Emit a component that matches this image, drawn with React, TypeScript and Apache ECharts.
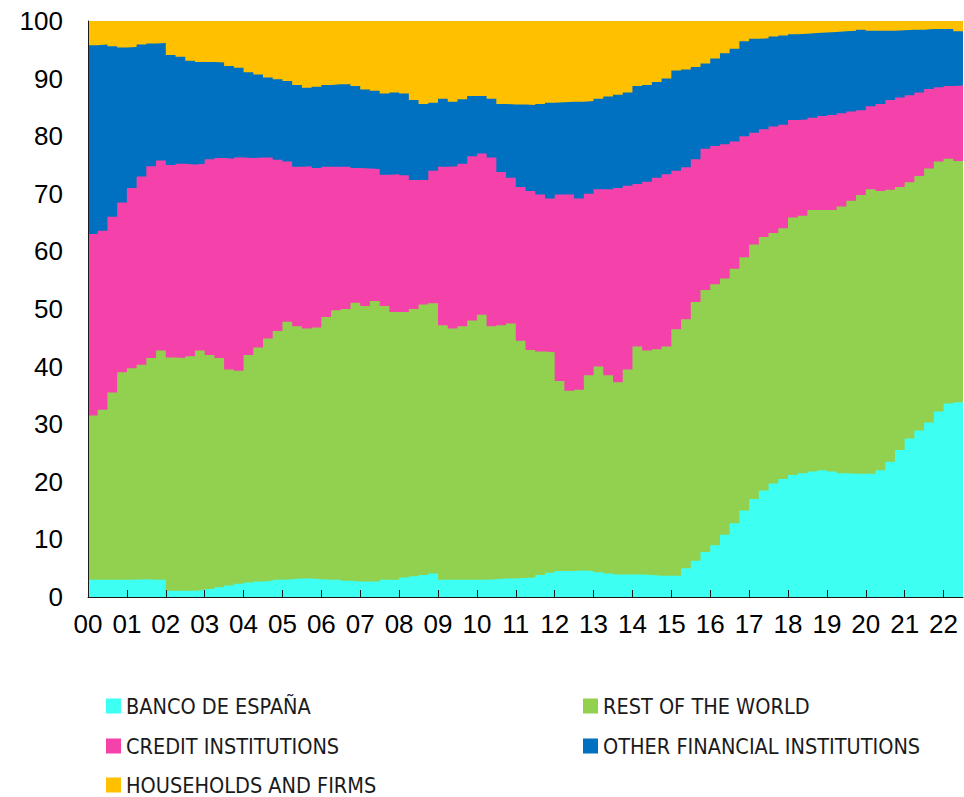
import React, { useEffect, useRef } from "react";
import * as echarts from "echarts";

// Year tick labels (x axis) and y-axis tick values
const yearLabels = ["00","01","02","03","04","05","06","07","08","09","10","11","12","13","14","15","16","17","18","19","20","21","22"];
const yTicks = [0, 10, 20, 30, 40, 50, 60, 70, 80, 90, 100];

// Series names (legend)
const names = [
  "BANCO DE ESPAÑA",
  "REST OF THE WORLD",
  "CREDIT INSTITUTIONS",
  "OTHER FINANCIAL INSTITUTIONS",
  "HOUSEHOLDS AND FIRMS",
];

// Quarterly readings, 2000Q1 .. 2022Q2: upper edge (cumulative %) of each band
const bancoDeEspanaTop = [
  3.0,3.0,3.0,3.0, 3.0,3.1,3.0,3.0, 1.1,1.1,1.1,1.2, 1.4,1.7,2.0,2.3,
  2.5,2.7,2.8,3.0, 3.1,3.2,3.2,3.1, 3.0,3.0,2.8,2.7, 2.7,2.7,3.0,3.0,
  3.4,3.6,3.8,4.1, 3.0,3.0,3.0,3.0, 3.0,3.1,3.2,3.2, 3.3,3.4,3.8,4.2,
  4.5,4.5,4.6,4.5, 4.3,4.1,3.9,3.9, 3.9,3.8,3.7,3.7, 3.7,5.0,6.3,7.8,
  9.0,10.8,12.8,15.0, 17.0,18.5,19.7,20.5, 21.2,21.5,21.8,22.0, 21.8,21.5,21.4,21.4,
  21.4,22.0,23.5,25.5, 27.5,28.9,30.3,32.2, 33.6,33.8,
];
const restOfWorldTop = [
  31.5,32.5,35.5,39.0, 39.7,40.3,41.5,42.8, 41.6,41.5,41.8,42.8, 42.0,41.5,39.5,39.3,
  42.0,43.3,44.9,46.2, 47.8,47.0,46.6,46.8, 48.6,49.8,50.0,51.1, 50.5,51.4,50.5,49.5,
  49.5,50.0,50.8,51.0, 47.2,46.6,47.0,48.0, 49.0,47.0,47.2,47.5, 44.5,42.9,42.6,42.5,
  37.5,35.8,36.0,38.5, 40.0,38.5,37.3,39.5, 43.5,42.8,43.0,43.5, 46.5,48.2,51.2,53.3,
  54.3,55.3,57.0,59.0, 61.2,62.5,63.2,64.0, 65.9,66.2,67.2,67.2, 67.2,67.8,68.8,69.8,
  70.8,70.5,70.7,71.2, 72.0,73.1,74.4,75.6, 76.1,75.7,
];
const creditInstitutionsTop = [
  63.0,63.6,66.0,68.5, 71.0,73.0,74.8,75.8, 75.0,75.2,75.1,75.2, 76.0,76.2,76.1,76.3,
  76.2,76.3,76.3,75.9, 75.6,74.7,74.8,74.5, 74.7,74.7,74.7,74.5, 74.4,74.3,73.3,73.4,
  73.2,72.4,72.4,74.0, 74.7,74.8,75.2,76.5, 77.0,76.3,73.8,72.8, 71.2,70.5,69.9,69.2,
  69.9,69.9,69.2,70.0, 70.8,70.8,71.0,71.4, 71.7,72.1,72.8,73.4, 74.0,74.6,76.0,77.8,
  78.3,78.6,79.1,80.0, 80.6,81.2,81.7,82.0, 82.8,82.9,83.2,83.5, 83.7,84.0,84.3,84.5,
  85.2,85.6,86.3,86.7, 87.1,87.6,88.2,88.5, 88.7,88.8,
];
const otherFinancialTop = [
  95.8,95.9,95.6,95.4, 95.5,95.9,96.1,96.2, 94.1,93.8,93.1,92.9, 92.9,92.8,92.2,91.9,
  91.1,90.7,90.2,89.9, 89.6,88.9,88.4,88.6, 88.9,89.0,89.0,88.7, 88.1,87.9,87.4,87.6,
  87.4,86.3,85.6,85.8, 86.5,86.0,86.4,87.0, 87.0,86.5,85.6,85.5, 85.5,85.4,85.6,85.8,
  85.9,86.0,86.0,86.1, 86.5,86.9,87.2,87.6, 88.7,88.9,89.4,90.0, 91.4,91.6,92.0,92.6,
  93.5,94.4,95.2,96.5, 96.9,97.0,97.3,97.5, 97.7,97.8,97.9,98.0, 98.1,98.2,98.3,98.5,
  98.3,98.3,98.3,98.4, 98.5,98.5,98.6,98.6, 98.6,98.2,
];
const householdsTop = [
  100,100,100,100, 100,100,100,100, 100,100,100,100, 100,100,100,100,
  100,100,100,100, 100,100,100,100, 100,100,100,100, 100,100,100,100,
  100,100,100,100, 100,100,100,100, 100,100,100,100, 100,100,100,100,
  100,100,100,100, 100,100,100,100, 100,100,100,100, 100,100,100,100,
  100,100,100,100, 100,100,100,100, 100,100,100,100, 100,100,100,100,
  100,100,100,100, 100,100,100,100, 100,100,
];

const colors = ["#3DFFF2", "#92D050", "#F542AA", "#0070C0", "#FFC000"];

export default function App() {
  const ref = useRef<HTMLDivElement>(null);
  useEffect(() => {
    if (!ref.current) return;
    const chart = echarts.init(ref.current, undefined, { renderer: "svg" });

    // Quarterly categories; the final one closes the last step
    const cats: string[] = [];
    yearLabels.forEach((y) => ["Q1", "Q2", "Q3", "Q4"].forEach((q) => cats.push(y + q)));
    const n = bancoDeEspanaTop.length;
    const categories = cats.slice(0, n + 1);
    const close = (a: number[]) => [...a, a[a.length - 1]];

    const levels = [bancoDeEspanaTop, restOfWorldTop, creditInstitutionsTop, otherFinancialTop, householdsTop];
    // draw back to front: households first, Banco de España last
    const order = [4, 3, 2, 1, 0];
    const series = order.map((k) => ({
      name: names[k],
      type: "line",
      step: "end",
      symbol: "none",
      silent: true,
      data: close(levels[k]),
      lineStyle: { width: 0, color: colors[k] },
      itemStyle: { color: colors[k] },
      areaStyle: { color: colors[k], opacity: 1 },
    }));

    const legendFont = {
      fontSize: 21.5,
      fontFamily: "'Liberation Sans Narrow', 'Arial Narrow', 'DejaVu Sans Condensed', sans-serif",
      color: "#1a1a1a",
    };
    const legendPos = [
      { left: 106, top: 695 },
      { left: 583, top: 695 },
      { left: 106, top: 735 },
      { left: 583, top: 735 },
      { left: 106, top: 774 },
    ];
    const legends = names.map((nm, i) => ({
      data: [nm],
      left: legendPos[i].left,
      top: legendPos[i].top,
      orient: "horizontal",
      padding: 0,
      itemWidth: 15,
      itemHeight: 15,
      itemGap: 0,
      icon: "rect",
      selectedMode: false,
      textStyle: legendFont,
    }));

    const tickFont = { fontSize: 26, fontFamily: "'Liberation Sans', Arial, sans-serif", color: "#000" };

    chart.setOption({
      animation: false,
      backgroundColor: "#ffffff",
      grid: { left: 88, right: 1, top: 21, bottom: 200, containLabel: false },
      legend: legends,
      xAxis: {
        type: "category",
        boundaryGap: false,
        data: categories,
        axisLine: { show: true, lineStyle: { color: "#1a1a1a", width: 1 } },
        axisTick: {
          show: true,
          inside: true,
          length: 7,
          interval: (i: number) => i % 4 === 0,
          lineStyle: { color: "#1a1a1a", width: 1 },
        },
        axisLabel: {
          interval: (i: number) => i % 4 === 0,
          formatter: (v: string) => v.slice(0, 2),
          margin: 14,
          ...tickFont,
        },
        splitLine: { show: false },
        z: 10,
      },
      yAxis: {
        type: "value",
        min: yTicks[0],
        max: yTicks[yTicks.length - 1],
        interval: 10,
        axisLine: { show: true, lineStyle: { color: "#1a1a1a", width: 1 } },
        axisTick: { show: false },
        axisLabel: { margin: 25, ...tickFont },
        splitLine: { show: false },
        z: 10,
      },
      series,
    });
    return () => chart.dispose();
  }, []);
  return (
    <div
      ref={ref}
      style={{ position: "fixed", left: 0, top: 0, width: 964, height: 797, background: "#fff" }}
    />
  );
}
